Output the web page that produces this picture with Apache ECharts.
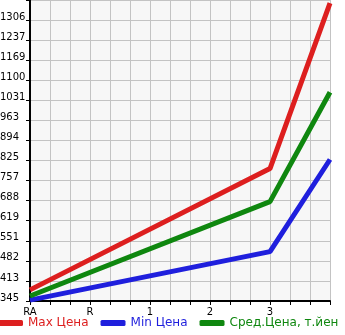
<!DOCTYPE html>
<html>
<head>
<meta charset="utf-8">
<script src="https://cdn.jsdelivr.net/npm/echarts@6/dist/echarts.min.js"></script>
<style>
html,body{margin:0;padding:0;background:#fff;}
#chart{width:345px;height:335px;}
</style>
</head>
<body>
<div id="chart"></div>
<script>
// categories (one slot per minor grid column; labels only on some)
const categories = ['RA','','','R','','','1','','','2','','','3','','',''];
const seriesNames = ['Max Цена','Min Цена','Сред.Цена, т.йен'];
const maxValues = [383, null, null, null, null, null, null, null, null, null, null, null, 798, null, null, 1364];
const minValues = [348, null, null, null, null, null, null, null, null, null, null, null, 514, null, null, 829];
const avgValues = [362, null, null, null, null, null, null, null, null, null, null, null, 685, null, null, 1059];
const yTickLabels = ['345','413','482','551','619','688','757','825','894','963','1031','1100','1169','1237','1306'];
const yMin = 345;
const yStep = 68.64;
const yMax = 1374.6;

const colors = ['#dd1f1f', '#1f1fdd', '#0f870f'];

const chart = echarts.init(document.getElementById('chart'), null, {renderer: 'canvas'});
const mk = (name, data, color) => ({
  name, type: 'line', data, connectNulls: true, showSymbol: false, symbol: 'none',
  lineStyle: {width: 5, color}, itemStyle: {color}, animation: false
});
chart.setOption({
  animation: false,
  grid: {left: 30, right: 15, top: 0, bottom: 34, containLabel: false, outerBoundsMode: 'none',
         show: true, backgroundColor: '#f7f7f7', borderWidth: 0},
  legend: {
    left: -7, bottom: 1, itemWidth: 25, itemHeight: 6, itemGap: 12, icon: 'roundRect',
    data: seriesNames.map((n, i) => ({name: n, textStyle: {color: colors[i]}})),
    textStyle: {fontFamily: 'DejaVu Sans', fontSize: 12}
  },
  xAxis: {
    type: 'category', data: categories, boundaryGap: false,
    axisLine: {lineStyle: {color: '#000', width: 2}},
    axisTick: {show: true, interval: 0, length: 4, lineStyle: {color: '#000'}},
    axisLabel: {interval: 0, margin: 6, color: '#000', fontFamily: 'DejaVu Sans', fontSize: 10},
    splitLine: {show: true, interval: 0, lineStyle: {color: '#c3c3c3', width: 1}}
  },
  yAxis: {
    type: 'value', min: yMin, max: yMax, interval: yStep,
    axisLine: {show: true, lineStyle: {color: '#000', width: 2}},
    axisTick: {show: true, length: 4, lineStyle: {color: '#000'}},
    axisLabel: {margin: 2, color: '#000', fontFamily: 'DejaVu Sans', fontSize: 10,
      verticalAlign: 'middle',
      formatter: (v, i) => (yTickLabels[i] !== undefined ? '{a|' + yTickLabels[i] + '}' : ''),
      rich: {a: {width: 28, align: 'left', fontFamily: 'DejaVu Sans', fontSize: 10, color: '#000',
                 lineHeight: 12, padding: [0, 0, 6, 0]}}},
    splitLine: {show: true, lineStyle: {color: '#c3c3c3', width: 1}}
  },
  series: [
    mk(seriesNames[0], maxValues, colors[0]),
    mk(seriesNames[1], minValues, colors[1]),
    mk(seriesNames[2], avgValues, colors[2])
  ]
});
</script>
</body>
</html>
